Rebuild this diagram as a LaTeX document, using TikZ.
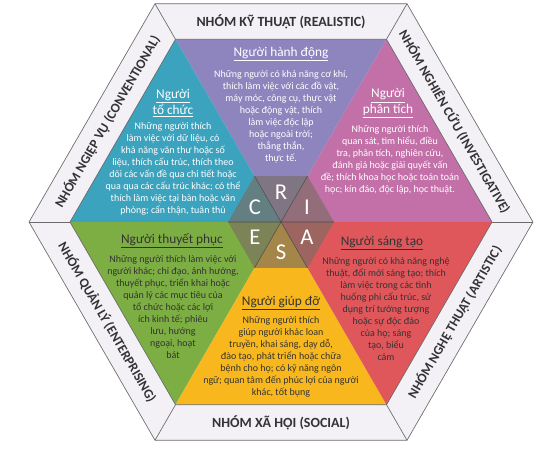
\documentclass[tikz,border=0pt]{standalone}
\usepackage{fontspec}
\setmainfont{Carlito}
\usetikzlibrary{calc}
\definecolor{cR}{HTML}{8E85BF}
\definecolor{cI}{HTML}{C370A9}
\definecolor{cA}{HTML}{DF575B}
\definecolor{cS}{HTML}{F8B71C}
\definecolor{cE}{HTML}{7DAE44}
\definecolor{cC}{HTML}{3CA3BE}
\definecolor{bandfill}{HTML}{F3F0F6}
\definecolor{edgecol}{HTML}{6B6B6B}
\definecolor{darktxt}{HTML}{333333}
\definecolor{tintcol}{HTML}{7A6D62}
\tikzset{
  bandlbl/.style={font=\fontsize{10.5}{12}\selectfont\bfseries, text=darktxt, inner sep=0pt},
  sidelbl/.style={font=\fontsize{10}{12}\selectfont\bfseries, text=darktxt, inner sep=0pt},
  headtxt/.style={font=\fontsize{10}{12}\selectfont, align=center, inner sep=0pt},
  bodytxt/.style={font=\fontsize{7.5}{9}\selectfont, align=center, inner sep=0pt},
  lettxt/.style={font=\fontsize{17}{17}\selectfont, text=white, inner sep=0pt},
  edgeline/.style={draw=edgecol, line width=0.5pt},
}
\begin{document}
\begin{tikzpicture}[x=0.75pt,y=0.75pt]
\useasboundingbox (0,0) rectangle (549,-454);
\fill[white] (0,0) rectangle (549,-454);
\coordinate (O) at (281,-222);
\foreach \k in {0,...,5} {
  \coordinate (P\k) at ($(O)+(60*\k:252)$);
  \coordinate (Q\k) at ($(O)+(60*\k:211)$);
  \coordinate (S\k) at ($(O)+(60*\k:53)$);
}
% bands
\fill[bandfill] (P0)--(P1)--(P2)--(P3)--(P4)--(P5)--cycle;
% sectors
\fill[cI] (O)--(Q0)--(Q1)--cycle;
\fill[cR] (O)--(Q1)--(Q2)--cycle;
\fill[cC] (O)--(Q2)--(Q3)--cycle;
\fill[cE] (O)--(Q3)--(Q4)--cycle;
\fill[cS] (O)--(Q4)--(Q5)--cycle;
\fill[cA] (O)--(Q5)--(Q0)--cycle;
% center tint
\fill[tintcol, opacity=0.65] (S0)--(S1)--(S2)--(S3)--(S4)--(S5)--cycle;
\draw[draw=edgecol!70!black, line width=0.4pt] (S0)--(S3) (S1)--(S4) (S2)--(S5);
% edges
\draw[edgeline] (P0)--(P1)--(P2)--(P3)--(P4)--(P5)--cycle;
\draw[edgeline] (Q0)--(Q1)--(Q2)--(Q3)--(Q4)--(Q5)--cycle;
\foreach \k in {0,...,5} { \draw[edgeline] (P\k)--(Q\k); }
% band labels
\node[bandlbl] (bR) at ($(O)+(90:200.5)$) {NHÓM KỸ THUẬT (REALISTIC)};
\node[sidelbl, rotate=-60] (bI) at ($(O)+(30:200.5)$) {NHÓM NGHIÊN CỨU (INVESTIGATIVE)};
\node[sidelbl, rotate=60] (bA) at ($(O)+(-30:200.5)$) {NHÓM NGHỆ THUẬT (ARTISTIC)};
\node[bandlbl] (bS) at ($(O)+(270:200.5)$) {NHÓM XÃ HỘI (SOCIAL)};
\node[sidelbl, rotate=-60] (bE) at ($(O)+(210:200.5)$) {NHÓM QUẢN LÝ (ENTERPRISING)};
\node[sidelbl, rotate=60] (bC) at ($(O)+(150:200.5)$) {NHÓM NGIỆP VỤ (CONVENTIONAL)};
% letters
\node[lettxt] (lR) at ($(O)+(90:30)$) {R};
\node[lettxt] (lI) at ($(O)+(30:30)$) {I};
\node[lettxt] (lA) at ($(O)+(-30:30)$) {A};
\node[lettxt] (lS) at ($(O)+(270:30)$) {S};
\node[lettxt] (lE) at ($(O)+(210:30)$) {E};
\node[lettxt] (lC) at ($(O)+(150:30)$) {C};
% R
\node[headtxt, text=white] (hR) at (281,-54) {\underline{Người hành động}};
\node[bodytxt, text=white] (tR) at (281,-117) {Những người có khả năng cơ khí,\\thích làm việc với các đồ vật,\\máy móc, công cụ, thực vật\\hoặc động vật, thích\\làm việc độc lập\\hoặc ngoài trời;\\thẳng thắn,\\thực tế.};
% C
\node[headtxt, text=white] (hC) at (173,-103) {\underline{Người}\\\underline{tổ chức}};
\node[bodytxt, text=white] (tC) at (173,-169) {Những người thích\\làm việc với dữ liệu, có\\khả năng văn thư hoặc số\\liệu, thích cấu trúc, thích theo\\dõi các vấn đề qua chi tiết hoặc\\qua qua các cấu trúc khác; có thể\\thích làm việc tại bàn hoặc văn\\phòng; cẩn thận, tuân thủ};
% I
\node[headtxt, text=white] (hI) at (388,-103.5) {\underline{Người}\\\underline{phân tích}};
\node[bodytxt, text=white] (tI) at (390,-159.5) {Những người thích\\quan sát, tìm hiểu, điều\\tra, phân tích, nghiên cứu,\\đánh giá hoặc giải quyết vấn\\đề; thích khoa học hoặc toán toán\\học; kín đáo, độc lập, học thuật.};
% E
\node[headtxt, text=darktxt] (hE) at (172,-241) {\underline{Người thuyết phục}};
\node[bodytxt, text=darktxt] (tE) at (173,-307) {Những người thích làm việc với\\người khác; chỉ đạo, ảnh hưởng,\\thuyết phục, triển khai hoặc\\quản lý các mục tiêu của\\tổ chức hoặc các lợi\\ích kinh tế; phiêu\\lưu, hướng\\ngoại, hoạt\\bát};
% A
\node[headtxt, text=darktxt] (hA) at (382,-243) {\underline{Người sáng tạo}};
\node[bodytxt, text=darktxt] (tA) at (386,-309.5) {Những người có khả năng nghệ\\thuật, đổi mới sáng tạo; thích\\làm việc trong các tình\\huống phi cấu trúc, sử\\dụng trí tưởng tượng\\hoặc sự độc đáo\\của họ; sáng\\tạo, biểu\\cảm};
% S
\node[headtxt, text=darktxt] (hS) at (281,-303) {\underline{Người giúp đỡ}};
\node[bodytxt, text=darktxt] (tS) at (281,-357) {Những người thích\\giúp người khác loan\\truyền, khai sáng, dạy dỗ,\\đào tạo, phát triển hoặc chữa\\bệnh cho họ; có kỹ năng ngôn\\ngữ; quan tâm đến phúc lợi của người\\khác, tốt bụng};
\end{tikzpicture}
\end{document}
